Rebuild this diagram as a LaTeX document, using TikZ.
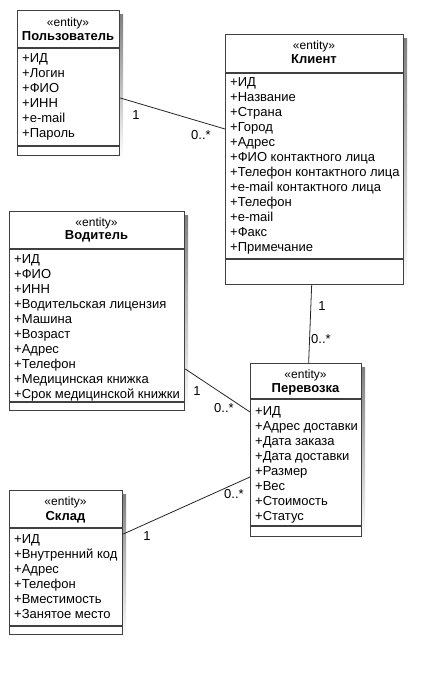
\documentclass[tikz,border=0pt]{standalone}
\usepackage{fontspec}
\setmainfont{Liberation Sans}
\definecolor{boxline}{HTML}{404040}
\definecolor{shade}{HTML}{F0F0F0}

\begin{document}
\begin{tikzpicture}
  [x=1pt,y=-1pt,
   every node/.style={inner sep=0pt},
   box/.style={draw=boxline,line width=1.3pt,fill=white,anchor=north west},
   sep/.style={draw=boxline,line width=1.3pt},
   stereo/.style={font=\fontsize{12}{14}\selectfont,anchor=base},
   title/.style={font=\fontsize{13}{15}\bfseries,anchor=base},
   attrs/.style={font=\fontsize{13}{15}\selectfont,align=left,anchor=base west},
   mult/.style={font=\fontsize{13}{15}\selectfont},
   link/.style={draw=black!85,line width=0.8pt}]
  \fill[white] (0,0) rectangle (444,675);
  \useasboundingbox (0,0) rectangle (444,675);

  % shadows
  \fill[shade] (21,14) rectangle (123,159);
  \fill[shade] (229,38) rectangle (407,288);
  \fill[shade] (13,215) rectangle (188,414);
  \fill[shade] (254,367) rectangle (365,540);
  \fill[shade] (13,494) rectangle (126,638);

  % Пользователь
  \node[box,minimum width=102pt,minimum height=145pt] (user) at (17,10) {};
  \node[stereo] (user-st) at (68,26) {«entity»};
  \node[title] (user-nm) at (68,40.5) {Пользователь};
  \draw[sep] (17,48) -- (119,48);
  \node[attrs] (user-at) at (22,137.5)
    {+ИД\\+Логин\\+ФИО\\+ИНН\\+e-mail\\+Пароль};
  \draw[sep] (17,146) -- (119,146);

  % Клиент
  \node[box,minimum width=178pt,minimum height=250pt] (client) at (225,34) {};
  \node[stereo] (client-st) at (314,49) {«entity»};
  \node[title] (client-nm) at (314,63.5) {Клиент};
  \draw[sep] (225,73) -- (403,73);
  \node[attrs] (client-at) at (230,251.5)
    {+ИД\\+Название\\+Страна\\+Город\\+Адрес\\+ФИО контактного лица\\
     +Телефон контактного лица\\+e-mail контактного лица\\+Телефон\\
     +e-mail\\+Факс\\+Примечание};
  \draw[sep] (225,259) -- (403,259);

  % Водитель
  \node[box,minimum width=175pt,minimum height=199pt] (driver) at (9,211) {};
  \node[stereo] (driver-st) at (96.5,226) {«entity»};
  \node[title] (driver-nm) at (96.5,239.5) {Водитель};
  \draw[sep] (9,249) -- (184,249);
  \node[attrs] (driver-at) at (14,398.5)
    {+ИД\\+ФИО\\+ИНН\\+Водительская лицензия\\+Машина\\+Возраст\\+Адрес\\
     +Телефон\\+Медицинская книжка\\+Срок медицинской книжки};
  \draw[sep] (9,402) -- (184,402);

  % Перевозка
  \node[box,minimum width=111pt,minimum height=173pt] (trip) at (250,363) {};
  \node[stereo] (trip-st) at (305.5,378) {«entity»};
  \node[title] (trip-nm) at (305.5,392.5) {Перевозка};
  \draw[sep] (250,399) -- (361,399);
  \node[attrs] (trip-at) at (255,520.5)
    {+ИД\\+Адрес доставки\\+Дата заказа\\+Дата доставки\\+Размер\\+Вес\\
     +Стоимость\\+Статус};
  \draw[sep] (250,526) -- (361,526);

  % Склад
  \node[box,minimum width=113pt,minimum height=144pt] (store) at (9,490) {};
  \node[stereo] (store-st) at (65.5,505) {«entity»};
  \node[title] (store-nm) at (65.5,520.5) {Склад};
  \draw[sep] (9,528) -- (122,528);
  \node[attrs] (store-at) at (14,618.5)
    {+ИД\\+Внутренний код\\+Адрес\\+Телефон\\+Вместимость\\+Занятое место};
  \draw[sep] (9,626) -- (122,626);

  % связи
  \draw[link] ([yshift=-88pt]user.north east) -- ([yshift=-95pt]client.north west);
  \draw[link] ([xshift=-3pt]client.south) -- ([xshift=2.5pt]trip.north);
  \draw[link] ([yshift=-158pt]driver.north east) -- ([yshift=-49pt]trip.north west);
  \draw[link] ([yshift=-44pt]store.north east) -- ([yshift=-114pt]trip.north west);

  \node[mult] (m1) at (136,115) {1};
  \node[mult] (m2) at (201,135) {0..*};
  \node[mult] (m3) at (322,306) {1};
  \node[mult] (m4) at (321,339) {0..*};
  \node[mult] (m5) at (197,391) {1};
  \node[mult] (m6) at (224,408) {0..*};
  \node[mult] (m7) at (147,536) {1};
  \node[mult] (m8) at (234,494) {0..*};
\end{tikzpicture}
\end{document}
